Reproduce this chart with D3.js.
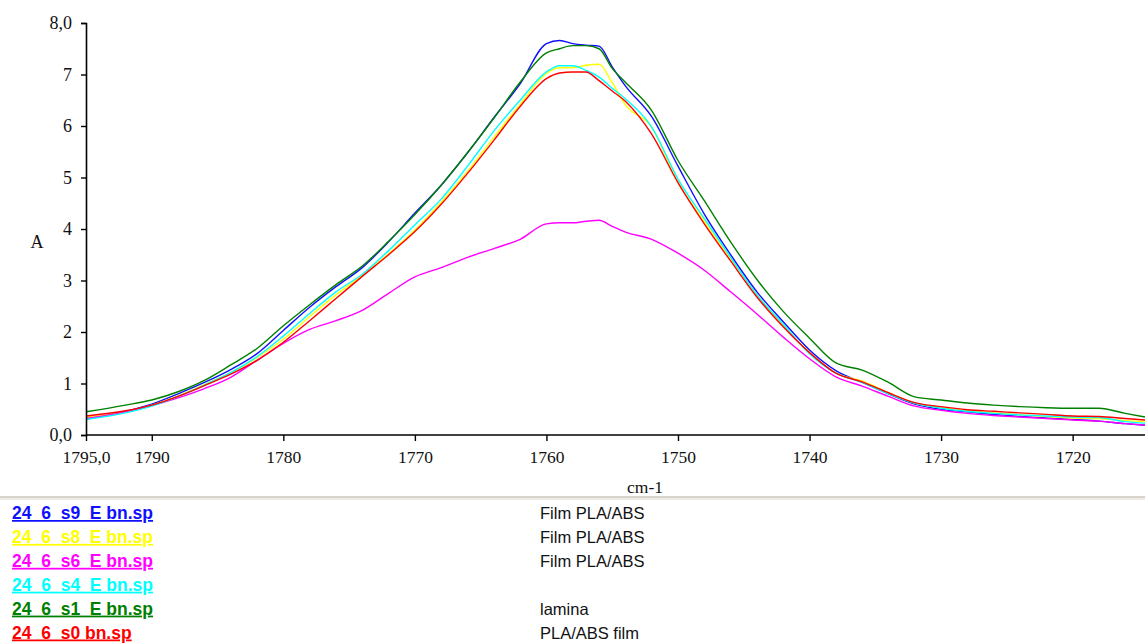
<!DOCTYPE html>
<html>
<head>
<meta charset="utf-8">
<script src="https://cdn.jsdelivr.net/npm/d3@7"></script>
<style>
  html, body { margin: 0; padding: 0; background: #fff; }
  svg { display: block; }
  text { white-space: pre; }
</style>
</head>
<body>
<div id="chart"></div>
<script>
// wavenumbers (cm-1)
const wavenumbers = [1795, 1792, 1790, 1788, 1786, 1784, 1782, 1780, 1778, 1776, 1774, 1772, 1770, 1768, 1766, 1764, 1762, 1760, 1759, 1758, 1757, 1756, 1755, 1754, 1752, 1750, 1748, 1746, 1744, 1742, 1740, 1738, 1736, 1734, 1732, 1730, 1728, 1726, 1724, 1722, 1720, 1718, 1716, 1714.5];

const s9 = [0.31, 0.46, 0.60, 0.80, 1.02, 1.27, 1.58, 2.03, 2.48, 2.88, 3.25, 3.75, 4.31, 4.85, 5.48, 6.16, 6.82, 7.60, 7.66, 7.60, 7.57, 7.55, 7.15, 6.78, 6.18, 5.22, 4.29, 3.50, 2.78, 2.20, 1.65, 1.25, 1.02, 0.80, 0.60, 0.50, 0.45, 0.40, 0.36, 0.33, 0.30, 0.27, 0.22, 0.19];
const s8 = [0.35, 0.45, 0.58, 0.76, 0.98, 1.21, 1.50, 1.86, 2.30, 2.72, 3.10, 3.52, 3.98, 4.52, 5.12, 5.78, 6.42, 7.02, 7.13, 7.13, 7.18, 7.20, 6.84, 6.41, 5.98, 4.90, 4.15, 3.42, 2.72, 2.12, 1.60, 1.20, 1.05, 0.82, 0.62, 0.53, 0.47, 0.43, 0.39, 0.36, 0.33, 0.32, 0.28, 0.26];
const s6 = [0.32, 0.45, 0.57, 0.72, 0.90, 1.12, 1.45, 1.78, 2.05, 2.22, 2.42, 2.75, 3.07, 3.25, 3.45, 3.62, 3.80, 4.10, 4.12, 4.12, 4.15, 4.17, 4.05, 3.94, 3.80, 3.53, 3.20, 2.78, 2.35, 1.90, 1.48, 1.13, 0.95, 0.75, 0.56, 0.48, 0.42, 0.38, 0.35, 0.32, 0.29, 0.27, 0.22, 0.19];
const s4 = [0.30, 0.43, 0.56, 0.75, 0.97, 1.21, 1.52, 1.92, 2.36, 2.78, 3.12, 3.58, 4.08, 4.58, 5.22, 5.90, 6.50, 7.05, 7.17, 7.17, 7.08, 6.95, 6.73, 6.53, 5.98, 4.97, 4.20, 3.45, 2.72, 2.15, 1.58, 1.20, 1.02, 0.80, 0.62, 0.52, 0.46, 0.42, 0.39, 0.37, 0.35, 0.34, 0.26, 0.23];
const s1 = [0.45, 0.58, 0.68, 0.84, 1.06, 1.36, 1.68, 2.12, 2.53, 2.92, 3.28, 3.76, 4.28, 4.85, 5.48, 6.15, 6.85, 7.42, 7.50, 7.56, 7.56, 7.50, 7.12, 6.85, 6.30, 5.33, 4.55, 3.75, 3.02, 2.40, 1.88, 1.40, 1.26, 1.02, 0.74, 0.68, 0.62, 0.58, 0.55, 0.53, 0.52, 0.52, 0.42, 0.35];
const s0 = [0.37, 0.47, 0.58, 0.75, 0.96, 1.18, 1.45, 1.80, 2.22, 2.65, 3.08, 3.50, 3.95, 4.48, 5.08, 5.72, 6.38, 6.92, 7.03, 7.05, 7.05, 6.88, 6.68, 6.48, 5.84, 4.90, 4.10, 3.38, 2.68, 2.10, 1.60, 1.20, 1.03, 0.82, 0.63, 0.55, 0.49, 0.46, 0.43, 0.40, 0.37, 0.36, 0.32, 0.29];

const seriesNames = ["24  6  s9  E bn.sp", "24  6  s8  E bn.sp", "24  6  s6  E bn.sp", "24  6  s4  E bn.sp", "24  6  s1  E bn.sp", "24  6  s0 bn.sp"];
const seriesNotes = ["Film PLA/ABS", "Film PLA/ABS", "Film PLA/ABS", "", "lamina", "PLA/ABS film"];
const seriesColors = ["#1010ff", "#ffff00", "#ff00ff", "#00ffff", "#008000", "#ff0000"];
const seriesValues = [s9, s8, s6, s4, s1, s0];

const xTicks = [1795, 1790, 1780, 1770, 1760, 1750, 1740, 1730, 1720];
const yTicks = [0, 1, 2, 3, 4, 5, 6, 7, 8];

const width = 1145;
const height = 643;

const svg = d3.select("#chart").append("svg").attr("width", width).attr("height", height);

const x = d3.scaleLinear().domain([1795, 1714.5]).range([86, 1145]);
const y = d3.scaleLinear().domain([0, 8]).range([435, 23]);

/** lines **/
svg.append("clipPath").attr("id", "plot")
  .append("rect").attr("x", 86).attr("y", 0).attr("width", width - 86).attr("height", 436);

const line = d3.line()
  .x((d) => x(d[0]))
  .y((d) => y(d[1]))
  .curve(d3.curveMonotoneX);

const plot = svg.append("g").attr("clip-path", "url(#plot)");
seriesValues.forEach((vals, i) => {
  plot.append("path")
    .datum(wavenumbers.map((w, j) => [w, vals[j]]))
    .attr("d", line)
    .attr("fill", "none")
    .attr("stroke", seriesColors[i])
    .attr("stroke-width", 1.4);
});

/** Y axis **/
svg.append("g")
  .attr("transform", "translate(86,0)")
  .call(d3.axisLeft(y).tickValues(yTicks).tickSize(5).tickPadding(9)
    .tickFormat((t) => (t === 0 || t === 8 ? `${t},0` : `${t}`)))
  .call((g) => {
    g.select(".domain").attr("stroke-width", 1.6);
    g.selectAll(".tick line").attr("stroke-width", 1.4);
    g.selectAll("text").attr("font-family", "'Liberation Serif', serif").attr("font-size", 18).attr("fill", "#111");
  });

/** X axis **/
svg.append("g")
  .attr("transform", "translate(0,435)")
  .call(d3.axisBottom(x).tickValues(xTicks).tickSize(6).tickPadding(10)
    .tickFormat((t) => (t === 1795 ? "1795,0" : `${t}`)))
  .call((g) => {
    g.select(".domain").attr("stroke-width", 1.6).attr("d", `M86,0H${width}`);
    g.selectAll(".tick line").attr("stroke-width", 1.4);
    g.selectAll("text").attr("font-family", "'Liberation Serif', serif").attr("font-size", 17.5).attr("fill", "#111");
  });

svg.append("text")
  .attr("x", 37).attr("y", 248)
  .attr("text-anchor", "middle")
  .attr("font-family", "'Liberation Serif', serif").attr("font-size", 18).attr("fill", "#111")
  .text("A");

svg.append("text")
  .attr("x", 645).attr("y", 493)
  .attr("text-anchor", "middle")
  .attr("font-family", "'Liberation Serif', serif").attr("font-size", 17.5).attr("fill", "#111")
  .text("cm-1");

/** separator **/
svg.append("rect").attr("x", 0).attr("y", 496).attr("width", width).attr("height", 2).attr("fill", "#d8d4cc");
svg.append("rect").attr("x", 0).attr("y", 498).attr("width", width).attr("height", 2).attr("fill", "#eeebe4");

/** legend **/
const legend = svg.append("g");
seriesNames.forEach((name, i) => {
  const yy = 519 + i * 23.9;
  legend.append("text")
    .attr("x", 12).attr("y", yy)
    .attr("font-family", "'Liberation Sans', Arial, sans-serif")
    .attr("font-size", 17.5)
    .attr("font-weight", "bold")
    .attr("fill", seriesColors[i])
    .style("text-decoration", "underline")
    .text(name);
  legend.append("text")
    .attr("x", 540).attr("y", yy)
    .attr("font-family", "'Liberation Sans', Arial, sans-serif")
    .attr("font-size", 16.5)
    .attr("fill", "#111")
    .text(seriesNotes[i]);
});
</script>
</body>
</html>
